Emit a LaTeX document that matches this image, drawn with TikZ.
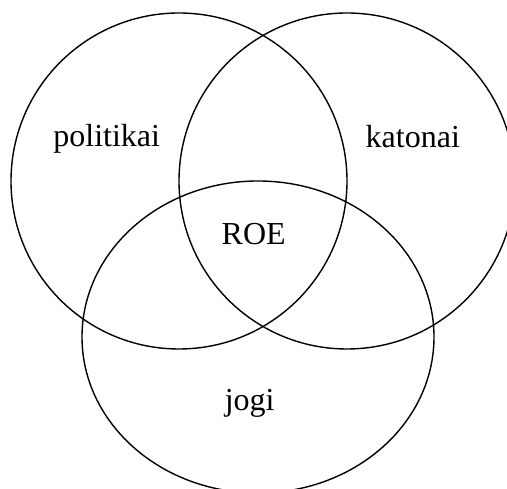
\documentclass[tikz,border=0pt]{standalone}
\usepackage{fontspec}
\setmainfont{Liberation Serif}
\begin{document}
\begin{tikzpicture}[x=1pt,y=1pt,
  setline/.style={line width=1.4pt},
  lbl/.style={anchor=base,inner sep=0pt,font=\fontsize{32}{38}\selectfont}]
\useasboundingbox (0,0) rectangle (507,489);
\clip (0,0) rectangle (507,489);
\draw[setline] (179,308) circle[radius=168];
\draw[setline] (347,308) circle[radius=168];
\draw[setline] (258,152) ellipse[x radius=176,y radius=156];
\node[lbl] (pol) at (106.7,342.3) {politikai};
\node[lbl] (kat) at (412.8,341.3) {katonai};
\node[lbl] (roe) at (253.7,244) {ROE};
\node[lbl] (jog) at (249.7,78.3) {jogi};
\end{tikzpicture}
\end{document}
